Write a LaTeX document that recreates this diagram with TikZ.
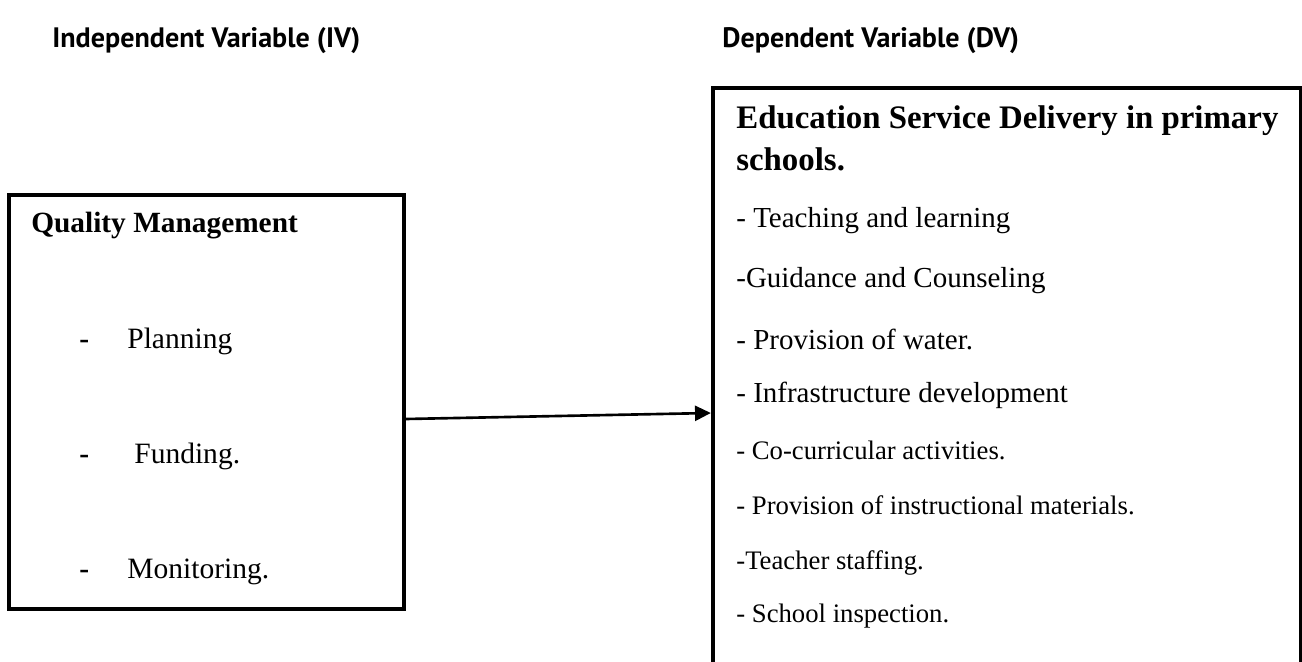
\documentclass[tikz,border=0pt]{standalone}
\usepackage{fontspec}
\setmainfont{Liberation Serif}
\newfontfamily\headfont{PT Sans}
\usetikzlibrary{arrows.meta,positioning}

\tikzset{
  varbox/.style={rectangle, draw=black, line width=2.5pt, inner sep=0pt},
  vartitle/.style={anchor=base west, inner sep=0pt, font=\headfont\bfseries\fontsize{16}{19}\selectfont},
  boxtitle/.style={anchor=base west, inner sep=0pt, font=\bfseries\fontsize{16.7}{20}\selectfont},
  dvtitle/.style={anchor=base west, inner sep=0pt, font=\bfseries\fontsize{18.7}{22}\selectfont},
  ivitem/.style={anchor=base west, inner sep=0pt, font=\fontsize{16.8}{20}\selectfont},
  dvitem/.style={anchor=base west, inner sep=0pt, font=\fontsize{16.5}{20}\selectfont},
  dvsmall/.style={anchor=base west, inner sep=0pt, font=\fontsize{15.2}{18}\selectfont},
  flow/.style={line width=1.5pt, -{Triangle[length=9pt,width=8.5pt]}}
}

\begin{document}
\begin{tikzpicture}[x=0.02cm, y=-0.02cm]
\useasboundingbox (0,0) rectangle (1302,662);

% column headings
\node[vartitle] (ivhead) at (52,48) {Independent Variable (IV)};
\node[vartitle] (dvhead) at (722,48) {Dependent Variable (DV)};

% independent variable
\node[varbox, minimum width=7.9cm, minimum height=8.28cm] (qm) at (206.5,402) {};
\node[boxtitle] (qmtitle) at (31,233) {Quality Management};
\node[ivitem] (d1) at (79,348) {\textbf{-}};
\node[ivitem] (plan) at (127,348) {Planning};
\node[ivitem] (d2) at (79,463) {\textbf{-}};
\node[ivitem] (fund) at (134,463) {Funding.};
\node[ivitem] (d3) at (79,578) {\textbf{-}};
\node[ivitem] (mon) at (127,578) {Monitoring.};

% dependent variable (runs off the page at the bottom)
\node[varbox, minimum width=11.76cm, minimum height=12.24cm] (esd) at (1007,394) {};
\node[dvtitle] (esd1) at (736,129) {Education Service Delivery in primary};
\node[dvtitle] (esd2) at (736,171) {schools.};
\node[dvitem] (teach) at (736,228) {- Teaching and learning};
\node[dvitem] (guide) at (736,288) {-Guidance and Counseling};
\node[dvitem] (water) at (736,350) {- Provision of water.};
\node[dvitem] (infra) at (736,402) {- Infrastructure development};
\node[dvsmall] (cocur) at (736,459) {- Co-curricular activities.};
\node[dvsmall] (instr) at (736,514) {- Provision of instructional materials.};
\node[dvsmall] (staff) at (736,569) {-Teacher staffing.};
\node[dvsmall] (insp) at (736,622) {- School inspection.};

\draw[flow] ([yshift=-0.34cm]qm.east) -- ([yshift=-0.38cm]esd.west);
\end{tikzpicture}
\end{document}
